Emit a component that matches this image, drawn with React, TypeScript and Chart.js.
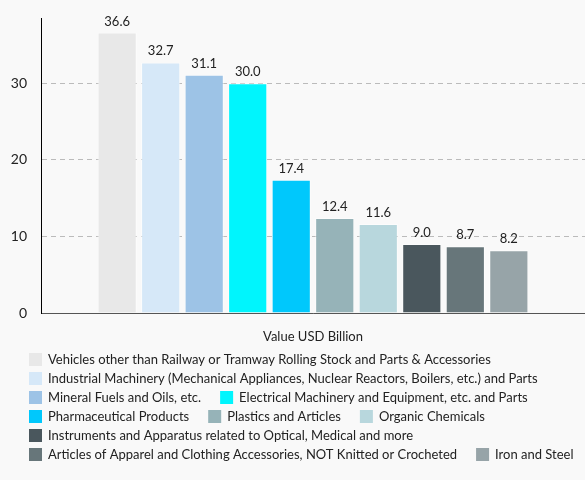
import React, { useEffect, useRef } from "react";
import { Chart, registerables } from "chart.js";

Chart.register(...registerables);

const categories = ["Value USD Billion"];
const seriesNames = [
  "Vehicles other than Railway or Tramway Rolling Stock and Parts & Accessories",
  "Industrial Machinery (Mechanical Appliances, Nuclear Reactors, Boilers, etc.) and Parts",
  "Mineral Fuels and Oils, etc.",
  "Electrical Machinery and Equipment, etc. and Parts",
  "Pharmaceutical Products",
  "Plastics and Articles",
  "Organic Chemicals",
  "Instruments and Apparatus related to Optical, Medical and more",
  "Articles of Apparel and Clothing Accessories, NOT Knitted or Crocheted",
  "Iron and Steel",
];
const seriesValues = [36.6, 32.7, 31.1, 30.0, 17.4, 12.4, 11.6, 9.0, 8.7, 8.2];
const seriesColors = [
  "#e8e8e8",
  "#d6e8f8",
  "#9dc3e6",
  "#00f5fd",
  "#00c8fc",
  "#96b3b8",
  "#b8d7dd",
  "#4a575d",
  "#67767a",
  "#97a4a8",
];
const yTickValues = [0, 10, 20, 30];
const yMax = 38.5;

const FONT = "Lato, 'Noto Sans', sans-serif";

const bgPlugin = {
  id: "bg",
  beforeDraw(chart: any) {
    const { ctx, width, height } = chart;
    ctx.save();
    ctx.fillStyle = "#f9f9f9";
    ctx.fillRect(0, 0, width, height);
    ctx.restore();
  },
};

const valueLabelPlugin = {
  id: "valueLabels",
  afterDatasetsDraw(chart: any) {
    const { ctx } = chart;
    ctx.save();
    ctx.font = `13px ${FONT}`;
    ctx.fillStyle = "#222";
    ctx.textAlign = "center";
    ctx.textBaseline = "alphabetic";
    chart.data.datasets.forEach((ds: any, i: number) => {
      const meta = chart.getDatasetMeta(i);
      meta.data.forEach((el: any, j: number) => {
        const v = ds.data[j];
        ctx.fillText(Number(v).toFixed(1), el.x, el.y - 7);
      });
    });
    ctx.restore();
  },
};

const legendPlugin = {
  id: "customLegend",
  afterDraw(chart: any) {
    const { ctx } = chart;
    ctx.save();
    ctx.font = `13px ${FONT}`;
    ctx.textBaseline = "middle";
    ctx.textAlign = "left";
    const startX = 29;
    let x = startX;
    let y = 353;
    const maxRight = 578;
    const box = 13;
    const textOffset = 19;
    const gap = 19;
    chart.data.datasets.forEach((ds: any) => {
      const w = textOffset + ctx.measureText(ds.label).width;
      if (x > startX && x + w > maxRight) {
        x = startX;
        y += 19;
      }
      ctx.fillStyle = ds.backgroundColor;
      ctx.fillRect(x, y, box, box);
      ctx.fillStyle = "#222";
      ctx.fillText(ds.label, x + textOffset, y + box / 2 + 0.5);
      x += w + gap;
    });
    ctx.restore();
  },
};

export default function App() {
  const ref = useRef<HTMLCanvasElement>(null);

  useEffect(() => {
    if (!ref.current) return;
    const chart = new Chart(ref.current, {
      type: "bar",
      data: {
        labels: categories,
        datasets: seriesNames.map((name, i) => ({
          label: name,
          data: [seriesValues[i]],
          backgroundColor: seriesColors[i],
          borderColor: "rgba(255,255,255,0.55)",
          borderWidth: 1,
        })),
      },
      options: {
        animation: false,
        responsive: false,
        devicePixelRatio: 1,
        layout: { padding: { left: 0, right: 0, top: 18, bottom: 137 } },
        font: { family: FONT },
        plugins: {
          legend: { display: false },
          tooltip: { enabled: false },
        },
        scales: {
          x: {
            grid: { display: false },
            border: { display: true, color: "#555", width: 1 },
            ticks: {
              color: "#222",
              font: { family: FONT, size: 13 },
              padding: 8,
            },
            afterFit: (s: any) => {
              s.height = 30;
              s.paddingLeft = 0;
              s.paddingRight = 0;
            },
          },
          y: {
            min: 0,
            max: yMax,
            afterBuildTicks: (s: any) => {
              s.ticks = yTickValues.map((v) => ({ value: v }));
            },
            grid: {
              color: "#bbbbbb",
              lineWidth: 1,
              drawTicks: false,
            },
            border: { display: true, color: "#000", width: 1, dash: [5, 4] },
            ticks: {
              color: "#222",
              font: { family: FONT, size: 14 },
              padding: 14,
            },
            afterFit: (s: any) => {
              s.width = 41;
              s.paddingTop = 0;
              s.paddingBottom = 0;
            },
          },
        },
      } as any,
      plugins: [bgPlugin, valueLabelPlugin, legendPlugin],
    });
    return () => chart.destroy();
  }, []);

  return (
    <div style={{ position: "absolute", left: 0, top: 0, width: 585, height: 480 }}>
      <canvas ref={ref} width={585} height={480} style={{ display: "block" }} />
    </div>
  );
}
